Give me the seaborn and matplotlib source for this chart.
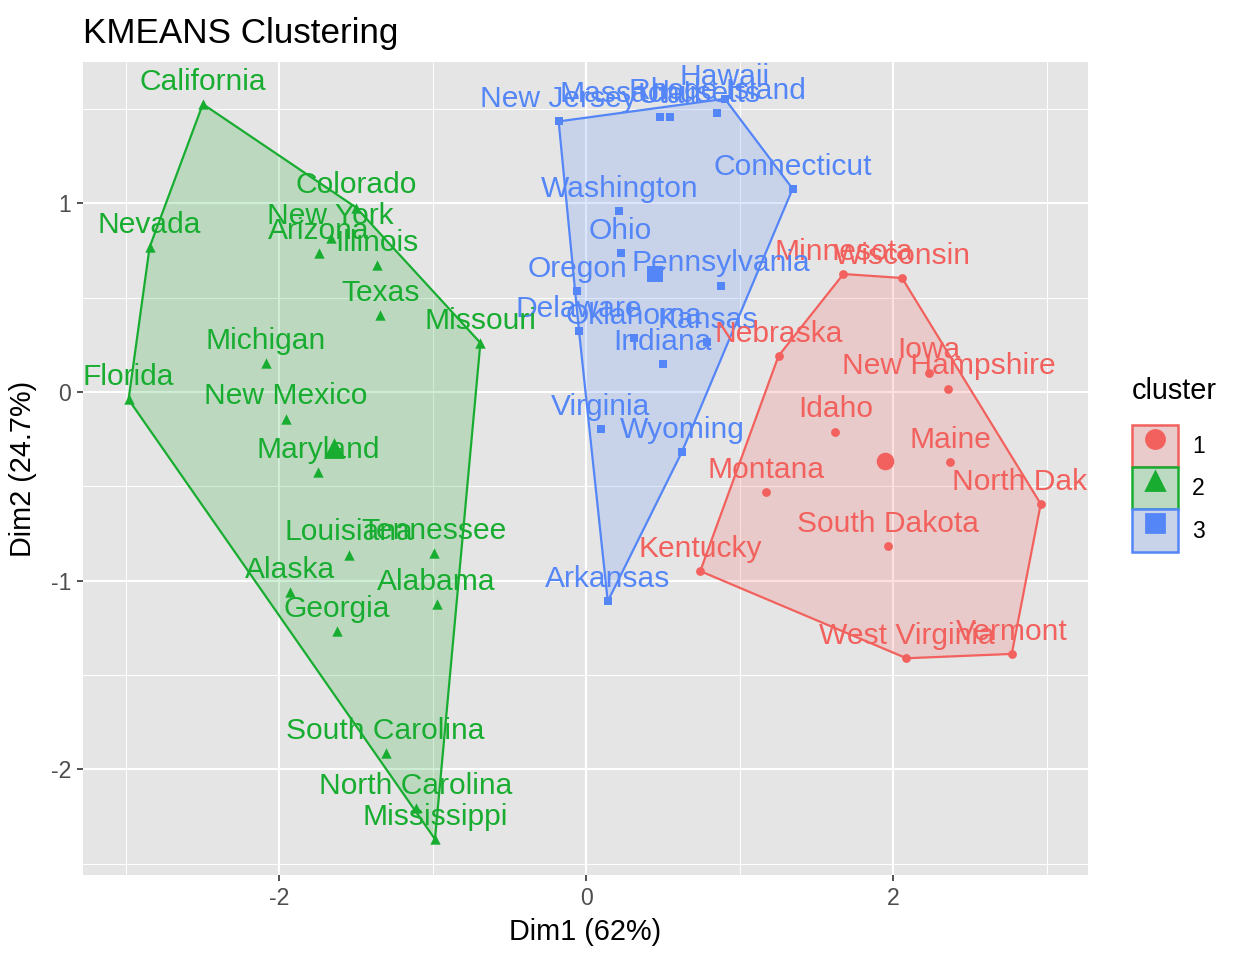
import numpy as np
import pandas as pd
import matplotlib.pyplot as plt
import matplotlib.transforms as mtransforms
import matplotlib.colors as mcolors
import seaborn as sns
from matplotlib.patches import Patch, Polygon
from matplotlib.lines import Line2D
from matplotlib.ticker import MultipleLocator

states = [
    "Alabama", "Alaska", "Arizona", "Arkansas", "California", "Colorado",
    "Connecticut", "Delaware", "Florida", "Georgia", "Hawaii", "Idaho",
    "Illinois", "Indiana", "Iowa", "Kansas", "Kentucky", "Louisiana",
    "Maine", "Maryland", "Massachusetts", "Michigan", "Minnesota",
    "Mississippi", "Missouri", "Montana", "Nebraska", "Nevada",
    "New Hampshire", "New Jersey", "New Mexico", "New York",
    "North Carolina", "North Dakota", "Ohio", "Oklahoma", "Oregon",
    "Pennsylvania", "Rhode Island", "South Carolina", "South Dakota",
    "Tennessee", "Texas", "Utah", "Vermont", "Virginia", "Washington",
    "West Virginia", "Wisconsin", "Wyoming",
]
dim1 = [
    -0.976, -1.931, -1.745, 0.140, -2.499, -1.499, 1.345, -0.047, -2.983,
    -1.623, 0.903, 1.623, -1.365, 0.500, 2.231, 0.789, 0.743, -1.549,
    2.373, -1.746, 0.481, -2.087, 1.676, -0.986, -0.690, 1.174, 1.253,
    -2.846, 2.360, -0.180, -1.960, -1.666, -1.112, 2.962, 0.224, 0.309,
    -0.059, 0.879, 0.855, -1.307, 1.968, -0.990, -1.342, 0.545, 2.773,
    0.095, 0.215, 2.087, 2.058, 0.623,
]
dim2 = [
    -1.122, -1.062, 0.738, -1.109, 1.527, 0.978, 1.078, 0.322, -0.039,
    -1.266, 1.555, -0.209, 0.675, 0.150, 0.103, 0.267, -0.949, -0.862,
    -0.373, -0.423, 1.460, 0.154, 0.626, -2.370, 0.261, -0.531, 0.192,
    0.768, 0.018, 1.435, -0.141, 0.815, -2.206, -0.593, 0.735, 0.285,
    0.536, 0.565, 1.477, -1.914, -0.815, -0.852, 0.408, 1.457, -1.388,
    -0.198, 0.960, -1.411, 0.605, -0.318,
]
cluster = [
    "2", "2", "2", "3", "2", "2", "3", "3", "2", "2", "3", "1", "2", "3",
    "1", "3", "1", "2", "1", "2", "3", "2", "1", "2", "2", "1", "1", "2",
    "1", "3", "2", "2", "2", "1", "3", "3", "3", "3", "3", "2", "1", "2",
    "2", "3", "1", "3", "3", "1", "1", "3",
]

df = pd.DataFrame({"state": states, "dim1": dim1, "dim2": dim2, "cluster": cluster})

palette = {"1": "#F2615D", "2": "#18AD30", "3": "#5486F8"}
markers = {"1": "o", "2": "^", "3": "s"}
sizes = {"1": 10, "2": 14, "3": 9}
panel_bg = "#E5E5E5"

sns.set_theme(style="darkgrid", rc={
    "axes.facecolor": panel_bg,
    "grid.color": "white",
    "axes.edgecolor": "none",
    "xtick.color": "#333333",
    "ytick.color": "#333333",
    "xtick.labelcolor": "#4D4D4D",
    "ytick.labelcolor": "#4D4D4D",
    "axes.unicode_minus": False,
    "text.color": "black",
    "axes.labelcolor": "black",
})
plt.rcParams["font.family"] = ["Liberation Sans", "DejaVu Sans"]


def convex_hull(points):
    pts = sorted(map(tuple, points))

    def cross(o, a, b):
        return (a[0] - o[0]) * (b[1] - o[1]) - (a[1] - o[1]) * (b[0] - o[0])

    lower, upper = [], []
    for p in pts:
        while len(lower) >= 2 and cross(lower[-2], lower[-1], p) <= 0:
            lower.pop()
        lower.append(p)
    for p in reversed(pts):
        while len(upper) >= 2 and cross(upper[-2], upper[-1], p) <= 0:
            upper.pop()
        upper.append(p)
    return np.array(lower[:-1] + upper[:-1])


fig = plt.figure(figsize=(6.24, 4.8), dpi=200)
ax = fig.add_axes([83 / 1248, 85 / 960, (1088 - 83) / 1248, (875 - 62) / 960])

# hulls
for k, grp in df.groupby("cluster"):
    h = convex_hull(grp[["dim1", "dim2"]].values)
    ax.add_patch(Polygon(h, closed=True, facecolor=palette[k], alpha=0.2,
                         edgecolor="none", zorder=2))
    ax.add_patch(Polygon(h, closed=True, fill=False, edgecolor=palette[k],
                         lw=0.8, zorder=3))

# points
for k, grp in df.groupby("cluster"):
    sns.scatterplot(data=grp, x="dim1", y="dim2", color=palette[k],
                    marker=markers[k], s=sizes[k], linewidth=0, ax=ax,
                    zorder=4, legend=False)

# cluster centres
centroids = df.groupby("cluster")[["dim1", "dim2"]].mean().reset_index()
for _, row in centroids.iterrows():
    k = row["cluster"]
    sns.scatterplot(x=[row["dim1"]], y=[row["dim2"]], color=palette[k],
                    marker=markers[k], s=sizes[k] * 4, linewidth=0, ax=ax,
                    zorder=4, legend=False)

shift = mtransforms.ScaledTranslation(0, 8 / 72, fig.dpi_scale_trans)
for _, row in df.iterrows():
    ax.text(row["dim1"], row["dim2"], row["state"], transform=ax.transData + shift,
            ha="center", va="center", color=palette[row["cluster"]],
            fontsize=10.8, zorder=5, clip_on=True)

ax.set_xlim(-3.28, 3.27)
ax.set_ylim(-2.56, 1.75)
ax.xaxis.set_major_locator(MultipleLocator(2))
ax.xaxis.set_minor_locator(MultipleLocator(1))
ax.yaxis.set_major_locator(MultipleLocator(1))
ax.yaxis.set_minor_locator(MultipleLocator(0.5))
ax.grid(which="major", color="white", lw=0.75)
ax.grid(which="minor", color="white", lw=0.35)
ax.tick_params(which="major", length=2.2, width=0.6, labelsize=8.3, pad=2,
               bottom=True, left=True)
ax.tick_params(which="minor", length=0)
ax.set_xlabel("Dim1 (62%)", fontsize=10.4, labelpad=3)
ax.set_ylabel("Dim2 (24.7%)", fontsize=10.4, labelpad=5)
ax.set_title("KMEANS Clustering", fontsize=12.6, loc="left", pad=7,
             color="black")

# legend keys: tinted box on grey, coloured border, marker
bg = np.array(mcolors.to_rgb(panel_bg))
handles = []
for k in ["1", "2", "3"]:
    tint = 0.2 * np.array(mcolors.to_rgb(palette[k])) + 0.8 * bg
    box = Patch(facecolor=tint, edgecolor=palette[k], lw=0.9)
    mk = Line2D([], [], marker=markers[k], color=palette[k], ls="none",
                markersize=6.5)
    handles.append((box, mk))
leg = ax.legend(handles, ["1", "2", "3"], title="cluster", frameon=False,
                loc="center left", bbox_to_anchor=(1.044, 0.505),
                fontsize=8.3, title_fontsize=10.4, handlelength=2.0,
                handleheight=2.45, labelspacing=0.0, handletextpad=0.6,
                borderaxespad=0, borderpad=0)
leg._legend_box.align = "left"
leg._legend_box.sep = 7

fig.savefig("out.png", dpi=200)
